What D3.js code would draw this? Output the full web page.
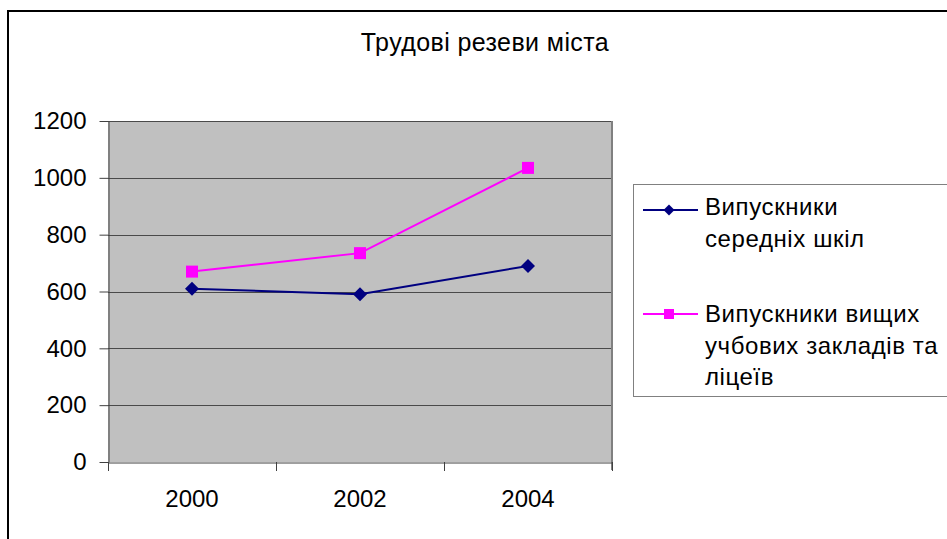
<!DOCTYPE html>
<html>
<head>
<meta charset="utf-8">
<script src="https://cdn.jsdelivr.net/npm/d3@7"></script>
<style>
  body { margin: 0; background: #fff; }
  svg { display: block; }
  text { font-family: "Liberation Sans", Arial, sans-serif; fill: #000; }
</style>
</head>
<body>
<div class="chart"></div>
<script>
const years = ['2000', '2002', '2004'];
const schoolGrads = [610, 590, 690];
const higherGrads = [670, 735, 1035];
const yTicks = [0, 200, 400, 600, 800, 1000, 1200];
const titleText = 'Трудові резеви міста';
const legendLabels = [
   ['Випускники', 'середніх шкіл'],
   ['Випускники вищих', 'учбових закладів та', 'ліцеїв']
];

const W = 947, H = 539;
const plot = {left: 108, top: 121, right: 612, bottom: 462};
const FONT = '"Liberation Sans", Arial, sans-serif';

function build_svg() {
   const svg = d3.select('.chart')
      .append('svg')
      .attr('width', W)
      .attr('height', H);
   // outer frame of the chart
   svg.append('rect')
      .attr('x', 8).attr('y', 11)
      .attr('width', W + 10).attr('height', H + 10)
      .attr('fill', 'none')
      .attr('stroke', '#000')
      .attr('stroke-width', 2);
   return svg;
}

function build_scales() {
   const x = d3.scaleBand()
      .domain(years)
      .range([plot.left, plot.right]);
   const y = d3.scaleLinear()
      .domain([0, 1200])
      .range([plot.bottom, plot.top]);
   return {x, y};
}

function draw_plot_area(svg, y) {
   svg.append('rect')
      .attr('x', plot.left).attr('y', plot.top)
      .attr('width', plot.right - plot.left)
      .attr('height', plot.bottom - plot.top)
      .attr('fill', '#c0c0c0');

   svg.append('g')
      .selectAll('line')
      .data(yTicks.filter(d => d > 0))
      .enter()
      .append('line')
      .attr('x1', plot.left).attr('x2', plot.right)
      .attr('y1', d => Math.round(y(d)) + 0.5)
      .attr('y2', d => Math.round(y(d)) + 0.5)
      .attr('stroke', '#4a4a4a')
      .attr('stroke-width', 1);

   // right edge of the plot area
   svg.append('line')
      .attr('x1', plot.right).attr('x2', plot.right)
      .attr('y1', plot.top).attr('y2', plot.bottom + 8)
      .attr('stroke', '#808080')
      .attr('stroke-width', 2);
}

function draw_axes(svg, x, y) {
   const yAxis = d3.axisLeft(y)
      .tickValues(yTicks)
      .tickFormat(d3.format('d'))
      .tickSizeInner(9)
      .tickSizeOuter(0)
      .tickPadding(13);
   const gy = svg.append('g')
      .attr('transform', `translate(${plot.left + 0.5},0)`)
      .call(yAxis);
   gy.selectAll('.tick line').attr('stroke', '#404040');
   gy.select('.domain').attr('stroke', '#404040');
   gy.selectAll('text')
      .attr('font-size', 24)
      .attr('font-family', FONT)
      .attr('fill', '#000');

   const xAxis = d3.axisBottom(x).tickSize(0).tickPadding(27);
   const gx = svg.append('g')
      .attr('transform', `translate(0,${plot.bottom + 0.5})`)
      .call(xAxis);
   gx.select('.domain').attr('stroke', '#404040');
   gx.selectAll('text')
      .attr('font-size', 24)
      .attr('font-family', FONT)
      .attr('fill', '#000');

   // category separators below the axis
   const bounds = years.map(d => x(d)).concat([x.range()[1]]);
   svg.append('g')
      .selectAll('line')
      .data(bounds)
      .enter()
      .append('line')
      .attr('x1', d => d + 0.5).attr('x2', d => d + 0.5)
      .attr('y1', plot.bottom).attr('y2', plot.bottom + 9)
      .attr('stroke', '#404040');
}

function draw_series(svg, x, y) {
   const cx = d => x(d) + x.bandwidth() / 2;
   const line = d3.line()
      .x(d => cx(d[0]))
      .y(d => y(d[1]));

   const navy = years.map((yr, i) => [yr, schoolGrads[i]]);
   const pink = years.map((yr, i) => [yr, higherGrads[i]]);

   svg.append('path')
      .datum(pink)
      .attr('d', line)
      .attr('fill', 'none')
      .attr('stroke', '#ff00ff')
      .attr('stroke-width', 2);
   svg.append('g')
      .selectAll('rect')
      .data(pink)
      .enter()
      .append('rect')
      .attr('x', d => cx(d[0]) - 6)
      .attr('y', d => y(d[1]) - 6)
      .attr('width', 12).attr('height', 12)
      .attr('fill', '#ff00ff');

   svg.append('path')
      .datum(navy)
      .attr('d', line)
      .attr('fill', 'none')
      .attr('stroke', '#000080')
      .attr('stroke-width', 2);
   svg.append('g')
      .selectAll('path')
      .data(navy)
      .enter()
      .append('path')
      .attr('d', d3.symbol(d3.symbolSquare, 98)())
      .attr('transform', d => `translate(${cx(d[0])},${y(d[1])}) rotate(45)`)
      .attr('fill', '#000080');
}

function draw_title(svg) {
   svg.append('text')
      .attr('x', 485).attr('y', 51)
      .attr('text-anchor', 'middle')
      .attr('font-size', 25)
      .attr('letter-spacing', 0.4)
      .text(titleText);
}

function draw_legend(svg) {
   const g = svg.append('g');
   g.append('rect')
      .attr('x', 633.5).attr('y', 184.5)
      .attr('width', 330).attr('height', 212)
      .attr('fill', '#fff')
      .attr('stroke', '#808080')
      .attr('stroke-width', 1);

   const entries = [
      {color: '#000080', marker: 'diamond', y: 210, base: 215, lines: legendLabels[0]},
      {color: '#ff00ff', marker: 'square', y: 314, base: 322, lines: legendLabels[1]}
   ];
   entries.forEach(e => {
      g.append('line')
         .attr('x1', 643).attr('x2', 698)
         .attr('y1', e.y).attr('y2', e.y)
         .attr('stroke', e.color).attr('stroke-width', 2);
      if (e.marker === 'diamond') {
         g.append('path')
            .attr('d', d3.symbol(d3.symbolSquare, 60)())
            .attr('transform', `translate(669,${e.y}) rotate(45)`)
            .attr('fill', e.color);
      } else {
         g.append('rect')
            .attr('x', 664).attr('y', e.y - 5)
            .attr('width', 10).attr('height', 10)
            .attr('fill', e.color);
      }
      e.lines.forEach((t, i) => {
         g.append('text')
            .attr('x', 705)
            .attr('y', e.base + i * 31.5)
            .attr('font-size', 24)
            .attr('letter-spacing', 0.6)
            .text(t);
      });
   });
}

const svg = build_svg();
const {x, y} = build_scales();
draw_title(svg);
draw_plot_area(svg, y);
draw_series(svg, x, y);
draw_axes(svg, x, y);
draw_legend(svg);
</script>
</body>
</html>
